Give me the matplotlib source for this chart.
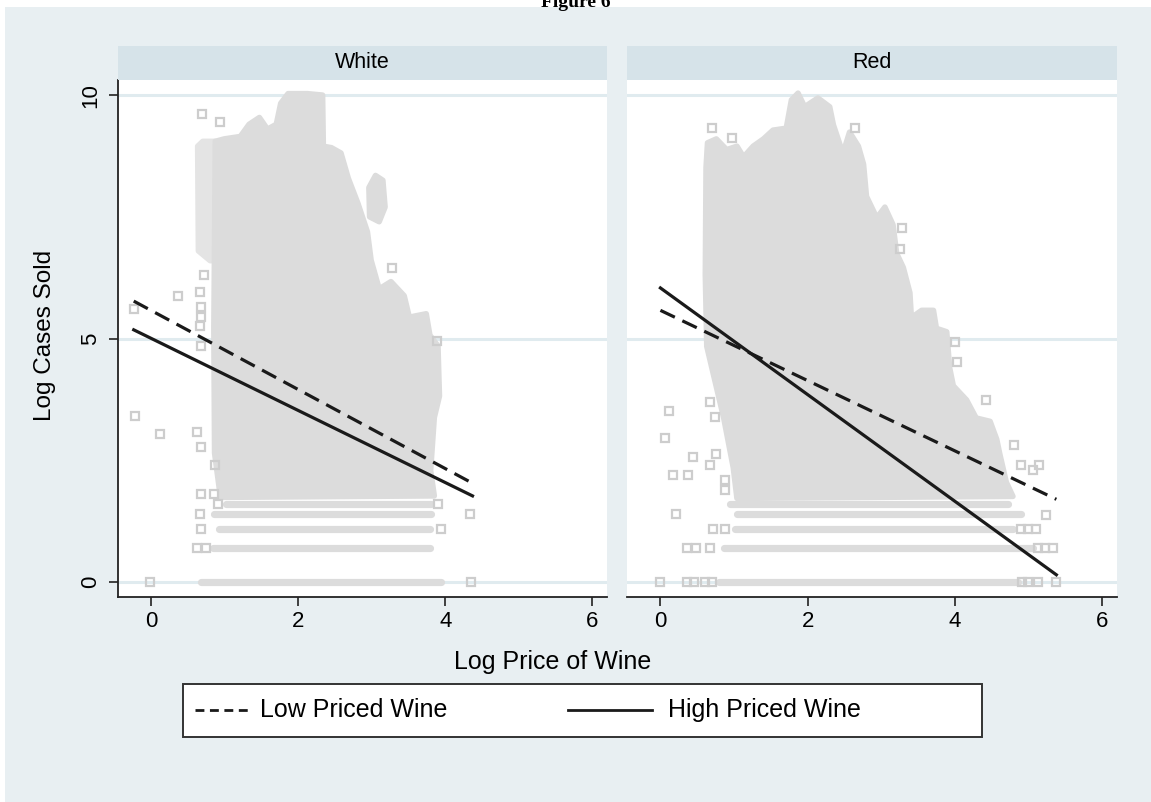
import matplotlib

matplotlib.use("Agg")
import matplotlib.pyplot as plt
from matplotlib.lines import Line2D
from matplotlib.patches import Rectangle

plt.rcParams["font.family"] = ["Liberation Sans", "DejaVu Sans"]

# ---- data ------------------------------------------------------------------
panels = ["White", "Red"]

# outline of the dense scatter cloud (log price, log cases)
white_cloud_x = [0.94, 0.86, 0.85, 0.86, 0.87, 0.99, 1.21, 1.33, 1.47, 1.58,
                 1.70, 1.76, 1.86, 2.12, 2.33, 2.34, 2.45, 2.58, 2.68, 2.81, 2.94, 2.99,
                 3.10, 3.26, 3.44, 3.51, 3.74, 3.79, 3.90, 3.92, 3.85, 3.80, 3.85]
white_cloud_y = [1.74, 2.65, 5.20, 7.00, 9.05, 9.10, 9.15, 9.40, 9.54, 9.30,
                 9.40, 9.83, 10.03, 10.03, 10.00, 8.95, 8.92, 8.81, 8.29, 7.78, 7.19, 6.61,
                 6.02, 6.17, 5.88, 5.44, 5.51, 5.07, 4.85, 3.82, 3.38, 2.29, 1.77]
# thinner strip of points left of the dense part
white_side_x = [0.87, 0.80, 0.64, 0.63, 0.70, 0.87]
white_side_y = [6.60, 6.60, 6.80, 8.95, 9.05, 9.05]
white_island_x = [2.97, 2.96, 3.05, 3.15, 3.18, 3.10]
white_island_y = [7.50, 8.10, 8.35, 8.25, 7.70, 7.40]

red_cloud_x = [1.04, 0.99, 0.86, 0.63, 0.61, 0.62, 0.64, 0.76, 0.90, 1.04, 1.13, 1.26,
               1.40, 1.53, 1.71, 1.78, 1.87, 1.96, 2.14, 2.30, 2.35, 2.48, 2.57, 2.69,
               2.76, 2.80, 2.94, 3.05, 3.16, 3.21, 3.30, 3.39, 3.41, 3.55, 3.71, 3.75,
               3.89, 3.93, 3.98, 4.16, 4.29, 4.48, 4.57, 4.61, 4.70, 4.79]
red_cloud_y = [1.72, 2.35, 3.37, 4.84, 6.31, 8.51, 9.02, 9.10, 8.88, 8.95, 8.73, 8.95,
               9.10, 9.28, 9.32, 9.90, 10.04, 9.76, 9.94, 9.76, 9.39, 8.80, 9.24, 8.95,
               8.58, 7.92, 7.48, 7.70, 7.34, 6.75, 6.46, 5.94, 5.43, 5.58, 5.58, 5.21,
               5.14, 4.40, 4.03, 3.74, 3.37, 3.30, 2.93, 2.64, 2.05, 1.76]

# discrete rows at low case counts (log 1 .. log 5)
white_rows_y = [0.00, 0.69, 1.10, 1.39, 1.61]
white_rows_x0 = [0.67, 0.84, 0.92, 0.85, 1.01]
white_rows_x1 = [3.94, 3.79, 3.79, 3.80, 3.80]
red_rows_y = [0.00, 0.69, 1.10, 1.39, 1.61]
red_rows_x0 = [0.79, 0.86, 1.01, 1.04, 0.95]
red_rows_x1 = [4.86, 5.06, 4.79, 4.90, 4.72]

# isolated points
white_out_x = [-0.24, -0.22, 0.12, 0.36, 0.62, 0.67, 0.87, 3.28, 3.89, 0.69, 0.94,
               0.67, 0.66, 0.68, 0.67, 0.66, 0.72,
               -0.02, 4.35, 0.62, 0.74, 0.67, 3.94, 0.66, 4.33, 0.90, 3.90, 0.67, 0.85]
white_out_y = [5.60, 3.41, 3.04, 5.88, 3.09, 2.78, 2.41, 6.44, 4.95, 9.61, 9.44,
               4.85, 5.25, 5.44, 5.65, 5.95, 6.30,
               0.00, 0.00, 0.69, 0.69, 1.10, 1.10, 1.39, 1.39, 1.61, 1.61, 1.81, 1.81]
red_out_x = [0.12, 0.06, 0.17, 0.37, 0.44, 0.68, 0.76, 0.74, 0.67, 0.97, 0.70, 2.65,
             3.28, 3.26, 4.03, 4.00, 4.43, 4.81, 4.90, 5.15, 5.06, 5.24, 0.88, 0.88,
             -0.01, 0.36, 0.45, 0.60, 0.70, 4.92, 5.00, 5.13, 5.37,
             0.36, 0.48, 0.67, 5.13, 5.22, 5.33, 0.72, 0.88, 4.90, 5.00, 5.10, 0.21]
red_out_y = [3.51, 2.95, 2.20, 2.20, 2.57, 2.40, 2.64, 3.40, 3.70, 9.11, 9.33, 9.33,
             7.28, 6.84, 4.52, 4.92, 3.73, 2.82, 2.40, 2.40, 2.31, 1.38, 1.90, 2.10,
             0.00, 0.00, 0.00, 0.00, 0.00, 0.00, 0.00, 0.00, 0.00,
             0.69, 0.69, 0.69, 0.69, 0.69, 0.69, 1.10, 1.10, 1.10, 1.10, 1.10, 1.39]

# fitted lines (end points)
white_low_x = [-0.24, 4.37]
white_low_y = [5.77, 2.03]
white_high_x = [-0.24, 4.37]
white_high_y = [5.18, 1.77]
red_low_x = [0.0, 5.38]
red_low_y = [5.58, 1.70]
red_high_x = [0.0, 5.38]
red_high_y = [6.04, 0.15]

x_ticks = [0, 2, 4, 6]
y_ticks = [0, 5, 10]
legend_labels = ["Low Priced Wine", "High Priced Wine"]

# ---- style -----------------------------------------------------------------
W, H = 1151, 802
BG = "#e8eff2"
STRIP = "#d6e3e9"
GRID = "#e0ebef"
CLOUD = "#dcdcdc"
SIDE = "#e4e4e4"
MARK = "#cdcdcd"
INK = "#1a1a1a"
DASH = (5.0, 2.6)


def fx(px):
    return px / W


def fy(py):
    return 1 - py / H


fig = plt.figure(figsize=(W / 100, H / 100), dpi=100)
fig.patch.set_facecolor("white")
fig.add_artist(Rectangle((fx(5), 0), 1 - fx(5), fy(7), transform=fig.transFigure,
                         facecolor=BG, edgecolor="none", zorder=0))
# the page title is cut off at the top edge in the reference
fig.text(0.5, fy(7), "Figure 6", ha="center", va="baseline", fontsize=14,
         fontweight="bold", family="Liberation Serif")

panel_data = {
    "White": (white_cloud_x, white_cloud_y, white_rows_y, white_rows_x0, white_rows_x1,
              white_out_x, white_out_y, white_low_x, white_low_y, white_high_x, white_high_y),
    "Red": (red_cloud_x, red_cloud_y, red_rows_y, red_rows_x0, red_rows_x1,
            red_out_x, red_out_y, red_low_x, red_low_y, red_high_x, red_high_y),
}
lefts = [118.3, 627.3]
right_edges = [607.0, 1116.7]
top, bottom = 80.0, 596.7

for i, name in enumerate(panels):
    (cx, cy, ry, rx0, rx1, ox, oy, lx, ly, hx, hy) = panel_data[name]
    ax = fig.add_axes([fx(lefts[i]), fy(bottom), (right_edges[i] - lefts[i]) / W,
                       (bottom - top) / H])
    ax.set_facecolor("white")
    ax.set_xlim(-0.45, 6.2)
    ax.set_ylim(-0.30, 10.31)

    if name == "White":
        ax.fill(white_side_x, white_side_y, color=SIDE, lw=4, joinstyle="round", zorder=2)
        ax.fill(white_island_x, white_island_y, color=CLOUD, lw=4, joinstyle="round",
                zorder=2)
    ax.fill(cx, cy, color=CLOUD, lw=4, joinstyle="round", zorder=2)
    rows = ax.hlines(ry, rx0, rx1, colors=CLOUD, lw=5.2, zorder=2)
    rows.set_capstyle("round")
    ax.plot(ox, oy, ls="none", marker="s", ms=5.5, mfc="none", mec=MARK, mew=1.6, zorder=2)

    ax.plot(lx, ly, color=INK, lw=2.3, dashes=DASH, zorder=4)
    ax.plot(hx, hy, color=INK, lw=2.3, zorder=4)

    ax.set_xticks(x_ticks)
    ax.set_yticks(y_ticks)
    ax.yaxis.grid(True, color=GRID, lw=2.2, zorder=0)
    ax.set_axisbelow(True)
    for s in ["top", "right"]:
        ax.spines[s].set_visible(False)
    ax.spines["bottom"].set_color("#222222")
    ax.spines["bottom"].set_linewidth(1.3)
    ax.tick_params(axis="x", direction="out", length=6.5, width=1.2, color="#222222",
                   labelsize=16, pad=4)
    if i == 0:
        ax.spines["left"].set_color("#222222")
        ax.spines["left"].set_linewidth(1.3)
        ax.tick_params(axis="y", direction="out", length=6.5, width=1.2, color="#222222",
                       labelsize=16, pad=6, labelrotation=90)
        for lbl in ax.get_yticklabels():
            lbl.set_va("center")
    else:
        ax.spines["left"].set_visible(False)
        ax.tick_params(axis="y", left=False, labelleft=False)

    # strip header
    fig.add_artist(Rectangle((fx(lefts[i]), fy(80)), (right_edges[i] - lefts[i]) / W,
                             34 / H, transform=fig.transFigure, facecolor=STRIP,
                             edgecolor="none"))
    fig.text(fx((lefts[i] + right_edges[i]) / 2), fy(63), name, ha="center",
             va="center", fontsize=15.5)

fig.text(fx(45), fy(335), "Log Cases Sold", rotation=90, ha="center", va="center",
         fontsize=17.5)
fig.text(fx(553), fy(662), "Log Price of Wine", ha="center", va="center", fontsize=18)

# legend box
fig.add_artist(Rectangle((fx(183), fy(737)), (982 - 183) / W, (737 - 684) / H,
                         transform=fig.transFigure, facecolor="white",
                         edgecolor="#333333", lw=1.4))
fig.add_artist(Line2D([fx(195), fx(250)], [fy(710), fy(710)], transform=fig.transFigure,
                      color=INK, lw=2.0, dashes=(3.2, 2.0)))
fig.text(fx(260), fy(710), legend_labels[0], ha="left", va="center", fontsize=18)
fig.add_artist(Line2D([fx(568), fx(652)], [fy(710), fy(710)], transform=fig.transFigure,
                      color=INK, lw=2.0))
fig.text(fx(668), fy(710), legend_labels[1], ha="left", va="center", fontsize=18)

fig.savefig("out.png", dpi=100)
